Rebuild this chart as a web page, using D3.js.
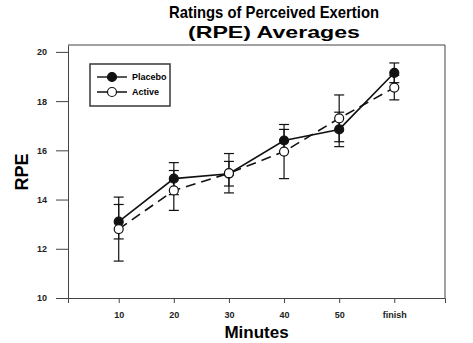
<!DOCTYPE html>
<html>
<head>
<meta charset="utf-8">
<script src="https://cdn.jsdelivr.net/npm/d3@7"></script>
<style>
  body { margin: 0; background: #fff; }
  svg { display: block; font-family: "Liberation Sans", Arial, Helvetica, sans-serif; }
  .axis path, .axis line { stroke: #444; }
  .axis text { font-size: 9px; font-weight: bold; fill: #222; }
</style>
</head>
<body>
<svg id="chart" width="473" height="343"></svg>
<script>
var categories = ["10", "20", "30", "40", "50", "finish"];
var placeboMean = [13.1, 14.85, 15.05, 16.4, 16.85, 19.15];
var placeboErr  = [0.7, 0.65, 0.5, 0.45, 0.7, 0.4];
var activeMean  = [12.8, 14.37, 15.07, 15.95, 17.3, 18.55];
var activeErr   = [1.3, 0.81, 0.8, 1.1, 0.95, 0.5];
var yTicks = [10, 12, 14, 16, 18, 20];

var svg = d3.select("#chart"),
    margin = {top: 45, right: 28, bottom: 45, left: 68},
    width = +svg.attr("width") - margin.left - margin.right,
    height = +svg.attr("height") - margin.top - margin.bottom,
    g = svg.append("g").attr("transform", "translate(" + margin.left + "," + margin.top + ")");

var x = d3.scaleLinear()
    .domain([0.08, categories.length + 0.92])
    .range([0, width]);

var y = d3.scaleLinear()
    .domain([10, 20.28])
    .range([height, 0]);

var series = [
  {name: "Placebo", mean: placeboMean, err: placeboErr, fill: "#111", dash: null},
  {name: "Active", mean: activeMean, err: activeErr, fill: "#fff", dash: "10,6"}
];

// frame
g.append("path")
    .attr("d", "M0,0H" + width + "V" + height)
    .attr("fill", "none")
    .attr("stroke", "#444");

g.append("g")
    .attr("class", "axis")
    .attr("transform", "translate(0," + height + ")")
    .call(d3.axisBottom(x)
      .tickValues(d3.range(1, categories.length + 1))
      .tickFormat(function(d) { return categories[d - 1]; })
      .tickSize(5)
      .tickSizeOuter(5)
      .tickPadding(9));

g.append("g")
    .attr("class", "axis")
    .call(d3.axisLeft(y)
      .tickValues(yTicks)
      .tickSize(12)
      .tickSizeOuter(0)
      .tickPadding(9));

var line = d3.line()
    .x(function(d, i) { return x(i + 1); })
    .y(function(d) { return y(d); });

series.forEach(function(s) {
  g.append("path")
      .datum(s.mean)
      .attr("d", line)
      .attr("fill", "none")
      .attr("stroke", "#111")
      .attr("stroke-width", 1.6)
      .attr("stroke-dasharray", s.dash);
});

series.forEach(function(s) {
  var eb = g.append("g")
      .attr("stroke", "#111")
      .attr("stroke-width", 1.2)
    .selectAll("g")
    .data(s.mean)
    .enter().append("g");

  eb.append("line")
      .attr("x1", function(d, i) { return x(i + 1); })
      .attr("x2", function(d, i) { return x(i + 1); })
      .attr("y1", function(d, i) { return y(d - s.err[i]); })
      .attr("y2", function(d, i) { return y(d + s.err[i]); });

  [-1, 1].forEach(function(k) {
    eb.append("line")
        .attr("x1", function(d, i) { return x(i + 1) - 5; })
        .attr("x2", function(d, i) { return x(i + 1) + 5; })
        .attr("y1", function(d, i) { return y(d + k * s.err[i]); })
        .attr("y2", function(d, i) { return y(d + k * s.err[i]); });
  });
});

series.forEach(function(s) {
  g.append("g")
    .selectAll("circle")
    .data(s.mean)
    .enter().append("circle")
      .attr("cx", function(d, i) { return x(i + 1); })
      .attr("cy", function(d) { return y(d); })
      .attr("r", 4.5)
      .attr("fill", s.fill)
      .attr("stroke", "#111")
      .attr("stroke-width", 1.2);
});

// legend
var legend = g.append("g").attr("transform", "translate(22,19)");

legend.append("rect")
    .attr("width", 80)
    .attr("height", 42)
    .attr("fill", "#fff")
    .attr("stroke", "#444")
    .attr("stroke-width", 1.6);

series.forEach(function(s, i) {
  var row = legend.append("g").attr("transform", "translate(0," + (13 + i * 15) + ")");
  row.append("line")
      .attr("x1", 7).attr("x2", 37)
      .attr("stroke", "#111")
      .attr("stroke-width", 1.4)
      .attr("stroke-dasharray", s.dash ? "14,6,12" : null);
  row.append("circle")
      .attr("cx", 22)
      .attr("r", 4.5)
      .attr("fill", s.fill)
      .attr("stroke", "#111")
      .attr("stroke-width", 1.2);
  row.append("text")
      .attr("x", 42)
      .attr("dy", "0.35em")
      .style("font-size", "9px")
      .style("font-weight", "bold")
      .text(s.name);
});

// titles (the original face is a condensed bold)
svg.append("text")
    .attr("x", 274)
    .attr("y", 18)
    .attr("text-anchor", "middle")
    .attr("textLength", 210)
    .attr("lengthAdjust", "spacingAndGlyphs")
    .style("font-size", "17px")
    .style("font-weight", "bold")
    .text("Ratings of Perceived Exertion");

svg.append("text")
    .attr("x", 274)
    .attr("y", 38)
    .attr("text-anchor", "middle")
    .attr("textLength", 172)
    .attr("lengthAdjust", "spacingAndGlyphs")
    .style("font-size", "17px")
    .style("font-weight", "bold")
    .text("(RPE) Averages");

svg.append("text")
    .attr("x", margin.left + width / 2)
    .attr("y", 338)
    .attr("text-anchor", "middle")
    .style("font-size", "17px")
    .style("font-weight", "bold")
    .text("Minutes");

svg.append("text")
    .attr("transform", "translate(28,172) rotate(-90)")
    .attr("text-anchor", "middle")
    .style("font-size", "18px")
    .style("font-weight", "bold")
    .text("RPE");
</script>
</body>
</html>
